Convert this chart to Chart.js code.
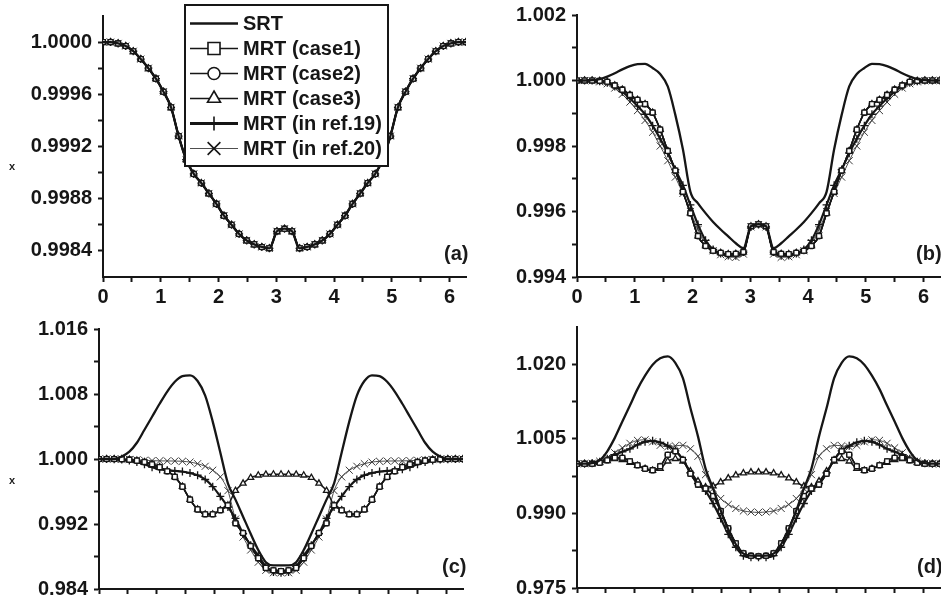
<!DOCTYPE html>
<html>
<head>
<meta charset="utf-8">
<script src="https://cdn.jsdelivr.net/npm/chart.js@4.4.1/dist/chart.umd.min.js"></script>
<style>
    html, body { margin: 0; padding: 0; background: #fff; overflow: hidden; }
    #page { position: relative; width: 941px; height: 600px; overflow: hidden; background: #fff; }
    canvas { position: absolute; }
    .tag { position: absolute; font: bold 20px "Liberation Sans", Arial, sans-serif; color: #1a1a1a; line-height: 20px; white-space: nowrap; }
    .ytitle { position: absolute; font: bold 11px "Liberation Sans", Arial, sans-serif; color: #222; line-height: 11px; }
</style>
</head>
<body>
<div id="page">
    <canvas id="chartA" width="472" height="330" style="left:0;top:-10px"></canvas>
    <canvas id="chartB" width="475" height="330" style="left:471px;top:-10px"></canvas>
    <canvas id="chartC" width="469" height="340" style="left:0;top:290px"></canvas>
    <canvas id="chartD" width="475" height="340" style="left:471px;top:290px"></canvas>
    <div class="ytitle" style="left:9px;top:161px">x</div>
    <div class="ytitle" style="left:9px;top:475px">x</div>
    <div class="tag" style="left:444px;top:243px">(a)</div>
    <div class="tag" style="left:916px;top:243px">(b)</div>
    <div class="tag" style="left:442px;top:556px">(c)</div>
    <div class="tag" style="left:917px;top:556px">(d)</div>
</div>
<script>
// x positions of the sampled points (0 .. 2*pi)
const xValues = [0, 0.131, 0.262, 0.393, 0.524, 0.654, 0.785, 0.916, 1.047, 1.178, 1.309, 1.440, 1.571,
    1.702, 1.833, 1.963, 2.094, 2.225, 2.356, 2.487, 2.618, 2.749, 2.880, 3.011, 3.142, 3.272, 3.403,
    3.534, 3.665, 3.796, 3.927, 4.058, 4.189, 4.320, 4.451, 4.581, 4.712, 4.843, 4.974, 5.105, 5.236,
    5.367, 5.498, 5.629, 5.760, 5.890, 6.021, 6.152, 6.283];

const seriesNames = ['SRT', 'MRT (case1)', 'MRT (case2)', 'MRT (case3)', 'MRT (in ref.19)', 'MRT (in ref.20)'];

// panel (a): all six schemes lie on the same curve
const curveA = [1.00000, 1.00000, 0.99999, 0.99997, 0.99993, 0.99987, 0.99980, 0.99972, 0.99962, 0.99950,
    0.99928, 0.99910, 0.99899, 0.99892, 0.99884, 0.99876, 0.99867, 0.99860, 0.99853, 0.99848, 0.99845,
    0.99843, 0.99842, 0.99855, 0.99857, 0.99855, 0.99842, 0.99843, 0.99845, 0.99848, 0.99853, 0.99860,
    0.99867, 0.99876, 0.99884, 0.99892, 0.99899, 0.99910, 0.99928, 0.99950, 0.99962, 0.99972, 0.99980,
    0.99987, 0.99993, 0.99997, 0.99999, 1.00000, 1.00000];

// panel (b)
const srtB = [1.00000, 1.00000, 1.00001, 1.00004, 1.00012, 1.00022, 1.00034, 1.00044, 1.00050, 1.00051,
    1.00038, 1.00020, 0.99982, 0.99895, 0.99790, 0.99660, 0.99625, 0.99595, 0.99568, 0.99545, 0.99524,
    0.99503, 0.99488, 0.99555, 0.99561, 0.99555, 0.99488, 0.99503, 0.99524, 0.99545, 0.99568, 0.99595,
    0.99625, 0.99660, 0.99790, 0.99895, 0.99982, 1.00020, 1.00038, 1.00051, 1.00050, 1.00044, 1.00034,
    1.00022, 1.00012, 1.00004, 1.00001, 1.00000, 1.00000];
const caseB = [1.00000, 1.00000, 1.00000, 0.99999, 0.99996, 0.99985, 0.99972, 0.99956, 0.99941, 0.99928,
    0.99902, 0.99850, 0.99785, 0.99725, 0.99660, 0.99595, 0.99525, 0.99495, 0.99480, 0.99474, 0.99470,
    0.99471, 0.99476, 0.99555, 0.99561, 0.99555, 0.99476, 0.99471, 0.99470, 0.99474, 0.99480, 0.99495,
    0.99525, 0.99595, 0.99660, 0.99725, 0.99785, 0.99850, 0.99902, 0.99928, 0.99941, 0.99956, 0.99972,
    0.99985, 0.99996, 0.99999, 1.00000, 1.00000, 1.00000];
const ref19B = [1.00000, 1.00000, 1.00000, 0.99998, 0.99993, 0.99982, 0.99966, 0.99945, 0.99922, 0.99897,
    0.99862, 0.99822, 0.99778, 0.99728, 0.99680, 0.99620, 0.99560, 0.99512, 0.99484, 0.99472, 0.99466,
    0.99465, 0.99476, 0.99553, 0.99560, 0.99553, 0.99476, 0.99465, 0.99466, 0.99472, 0.99484, 0.99512,
    0.99560, 0.99620, 0.99680, 0.99728, 0.99778, 0.99822, 0.99862, 0.99897, 0.99922, 0.99945, 0.99966,
    0.99982, 0.99993, 0.99998, 1.00000, 1.00000, 1.00000];
const ref20B = [1.00000, 1.00000, 0.99999, 0.99996, 0.99990, 0.99977, 0.99958, 0.99934, 0.99908, 0.99878,
    0.99842, 0.99800, 0.99755, 0.99705, 0.99655, 0.99600, 0.99545, 0.99505, 0.99480, 0.99468, 0.99462,
    0.99460, 0.99470, 0.99553, 0.99560, 0.99553, 0.99470, 0.99460, 0.99462, 0.99468, 0.99480, 0.99505,
    0.99545, 0.99600, 0.99655, 0.99705, 0.99755, 0.99800, 0.99842, 0.99878, 0.99908, 0.99934, 0.99958,
    0.99977, 0.99990, 0.99996, 0.99999, 1.00000, 1.00000];

// panel (c)
const srtC = [1.0000, 1.0000, 1.0000, 1.0003, 1.0009, 1.0020, 1.0036, 1.0052, 1.0068, 1.0083, 1.0095,
    1.0102, 1.0103, 1.0096, 1.0078, 1.0046, 1.0008, 0.9970, 0.9950, 0.9929, 0.9908, 0.9888, 0.9873,
    0.9869, 0.9869, 0.9869, 0.9873, 0.9888, 0.9908, 0.9929, 0.9950, 0.9970, 1.0008, 1.0046, 1.0078,
    1.0096, 1.0103, 1.0102, 1.0095, 1.0083, 1.0068, 1.0052, 1.0036, 1.0020, 1.0009, 1.0003, 1.0000,
    1.0000, 1.0000];
const case12C = [1.0000, 1.0000, 1.0000, 0.99998, 0.99992, 0.99980, 0.99962, 0.99935, 0.99900, 0.99850,
    0.99780, 0.99660, 0.99500, 0.99380, 0.99320, 0.99320, 0.99370, 0.99430, 0.99210, 0.99090, 0.98930,
    0.98780, 0.98660, 0.98630, 0.98620, 0.98630, 0.98660, 0.98780, 0.98930, 0.99090, 0.99210, 0.99430,
    0.99370, 0.99320, 0.99320, 0.99380, 0.99500, 0.99660, 0.99780, 0.99850, 0.99900, 0.99935, 0.99962,
    0.99980, 0.99992, 0.99998, 1.0000, 1.0000, 1.0000];
const case3C = [1.0000, 1.0000, 1.0000, 0.99998, 0.99992, 0.99980, 0.99962, 0.99935, 0.99900, 0.99850,
    0.99780, 0.99660, 0.99500, 0.99380, 0.99320, 0.99320, 0.99370, 0.99430, 0.99610, 0.99700, 0.99770,
    0.99800, 0.99810, 0.99812, 0.99812, 0.99812, 0.99810, 0.99800, 0.99770, 0.99700, 0.99610, 0.99430,
    0.99370, 0.99320, 0.99320, 0.99380, 0.99500, 0.99660, 0.99780, 0.99850, 0.99900, 0.99935, 0.99962,
    0.99980, 0.99992, 0.99998, 1.0000, 1.0000, 1.0000];
const ref19C = [1.0000, 1.0000, 0.99998, 0.99993, 0.99982, 0.99962, 0.99935, 0.99900, 0.99875, 0.99862,
    0.99853, 0.99845, 0.99828, 0.99800, 0.99748, 0.99660, 0.99540, 0.99410, 0.99270, 0.99080, 0.98940,
    0.98810, 0.98680, 0.98610, 0.98600, 0.98610, 0.98680, 0.98810, 0.98940, 0.99080, 0.99270, 0.99410,
    0.99540, 0.99660, 0.99748, 0.99800, 0.99828, 0.99845, 0.99853, 0.99862, 0.99875, 0.99900, 0.99935,
    0.99962, 0.99982, 0.99993, 0.99998, 1.0000, 1.0000];
const ref20C = [1.0000, 1.0000, 1.0000, 0.99998, 0.99995, 0.99990, 0.99985, 0.99980, 0.99977, 0.99976,
    0.99975, 0.99972, 0.99962, 0.99942, 0.99910, 0.99862, 0.99780, 0.99610, 0.99260, 0.99040, 0.98880,
    0.98730, 0.98630, 0.98600, 0.98600, 0.98600, 0.98630, 0.98730, 0.98880, 0.99040, 0.99260, 0.99610,
    0.99780, 0.99862, 0.99910, 0.99942, 0.99962, 0.99972, 0.99975, 0.99976, 0.99977, 0.99980, 0.99985,
    0.99990, 0.99995, 0.99998, 1.0000, 1.0000, 1.0000];

// panel (d)
const srtD = [1.0000, 1.0000, 1.0001, 1.0007, 1.0025, 1.0052, 1.0085, 1.0117, 1.0150, 1.0177, 1.0199,
    1.0212, 1.0216, 1.0203, 1.0172, 1.0112, 1.0055, 0.9990, 0.9950, 0.9906, 0.9868, 0.9838, 0.9819,
    0.9815, 0.9815, 0.9815, 0.9819, 0.9838, 0.9868, 0.9906, 0.9950, 0.9990, 1.0055, 1.0112, 1.0172,
    1.0203, 1.0216, 1.0212, 1.0199, 1.0177, 1.0150, 1.0117, 1.0085, 1.0052, 1.0025, 1.0007, 1.0001,
    1.0000, 1.0000];
const case12D = [1.0000, 1.0000, 1.0000, 1.0002, 1.0007, 1.0012, 1.0012, 1.0005, 0.9997, 0.9990, 0.9987,
    0.9995, 1.0018, 1.0025, 1.0008, 0.9980, 0.9958, 0.9950, 0.9935, 0.9905, 0.9870, 0.9840, 0.9820,
    0.9815, 0.9814, 0.9815, 0.9820, 0.9840, 0.9870, 0.9905, 0.9935, 0.9950, 0.9958, 0.9980, 1.0008,
    1.0025, 1.0018, 0.9995, 0.9987, 0.9990, 0.9997, 1.0005, 1.0012, 1.0012, 1.0007, 1.0002, 1.0000,
    1.0000, 1.0000];
const case3D = [1.0000, 1.0000, 1.0000, 1.0002, 1.0006, 1.0010, 1.0008, 1.0002, 0.9996, 0.9990, 0.9986,
    0.9990, 1.0005, 1.0010, 1.0005, 0.9985, 0.9965, 0.9953, 0.9955, 0.9963, 0.9971, 0.9977, 0.9981,
    0.9983, 0.9983, 0.9983, 0.9981, 0.9977, 0.9971, 0.9963, 0.9955, 0.9953, 0.9965, 0.9985, 1.0005,
    1.0010, 1.0005, 0.9990, 0.9986, 0.9990, 0.9996, 1.0002, 1.0008, 1.0010, 1.0006, 1.0002, 1.0000,
    1.0000, 1.0000];
const ref19D = [1.0000, 1.0000, 1.0001, 1.0004, 1.0010, 1.0018, 1.0024, 1.0030, 1.0038, 1.0044, 1.0046,
    1.0043, 1.0036, 1.0026, 1.0008, 0.9982, 0.9960, 0.9945, 0.9920, 0.9890, 0.9858, 0.9832, 0.9815,
    0.9812, 0.9812, 0.9812, 0.9815, 0.9832, 0.9858, 0.9890, 0.9920, 0.9945, 0.9960, 0.9982, 1.0008,
    1.0026, 1.0036, 1.0043, 1.0046, 1.0044, 1.0038, 1.0030, 1.0024, 1.0018, 1.0010, 1.0004, 1.0001,
    1.0000, 1.0000];
const ref20D = [1.0000, 1.0000, 1.0001, 1.0005, 1.0012, 1.0022, 1.0032, 1.0041, 1.0047, 1.0048, 1.0044,
    1.0037, 1.0034, 1.0036, 1.0037, 1.0030, 1.0015, 0.9978, 0.9950, 0.9930, 0.9918, 0.9910, 0.9905,
    0.9903, 0.9902, 0.9903, 0.9905, 0.9910, 0.9918, 0.9930, 0.9950, 0.9978, 1.0015, 1.0030, 1.0037,
    1.0036, 1.0034, 1.0037, 1.0044, 1.0048, 1.0047, 1.0041, 1.0032, 1.0022, 1.0012, 1.0005, 1.0001,
    1.0000, 1.0000];

// axis ticks
const xTickLabels = ['0', '1', '2', '3', '4', '5', '6'];
const xMinorTicks = [0.5, 1.5, 2.5, 3.5, 4.5, 5.5];
const yLabelsA = ['0.9984', '0.9988', '0.9992', '0.9996', '1.0000'];
const yMinorA = [0.9986, 0.9990, 0.9994, 0.9998];
const yLabelsB = ['0.994', '0.996', '0.998', '1.000', '1.002'];
const yMinorB = [0.995, 0.997, 0.999, 1.001];
const yLabelsC = ['0.984', '0.992', '1.000', '1.008', '1.016'];
const yMinorC = [0.988, 0.996, 1.004, 1.012];
const yLabelsD = ['0.975', '0.990', '1.005', '1.020'];
const yMinorD = [0.9825, 0.9975, 1.0125];

const ink = '#161616';

// line / marker look of each scheme (same order as seriesNames)
const seriesStyles = [
    {borderWidth: 2.3, borderColor: ink, pointRadius: 0, pointStyle: 'circle', legendRadius: 0},
    {borderWidth: 1.5, borderColor: ink, pointRadius: 3.4, pointStyle: 'rect', legendRadius: 8.5},
    {borderWidth: 1.5, borderColor: ink, pointRadius: 2.7, pointStyle: 'circle', legendRadius: 6},
    {borderWidth: 1.5, borderColor: ink, pointRadius: 3.5, pointStyle: 'triangle', legendRadius: 7.5},
    {borderWidth: 2.2, borderColor: ink, pointRadius: 4, pointStyle: 'cross', legendRadius: 7},
    {borderWidth: 0.9, borderColor: '#3a3a3a', pointRadius: 5, pointStyle: 'crossRot', legendRadius: 9}
];

Chart.defaults.font.family = '"Liberation Sans", Arial, Helvetica, sans-serif';
Chart.defaults.font.size = 20;
Chart.defaults.font.weight = 'bold';
Chart.defaults.color = ink;

function labelFor(value, values, labels) {
    const i = values.findIndex(v => Math.abs(v - value) < 1e-9);
    return i >= 0 ? labels[i] : '';
}

function drawMarker(ctx, style, r, x, y) {
    ctx.beginPath();
    if (style === 'rect') {
        const h = r * Math.SQRT1_2;
        ctx.rect(x - h, y - h, 2 * h, 2 * h);
    } else if (style === 'circle') {
        ctx.arc(x, y, r, 0, Math.PI * 2);
    } else if (style === 'triangle') {
        ctx.moveTo(x, y - r);
        ctx.lineTo(x + r * 0.866, y + r * 0.5);
        ctx.lineTo(x - r * 0.866, y + r * 0.5);
        ctx.closePath();
    } else if (style === 'cross') {
        ctx.moveTo(x, y - r); ctx.lineTo(x, y + r);
        ctx.moveTo(x - r, y); ctx.lineTo(x + r, y);
        ctx.stroke();
        return;
    } else if (style === 'crossRot') {
        const d = r * Math.SQRT1_2;
        ctx.moveTo(x - d, y - d); ctx.lineTo(x + d, y + d);
        ctx.moveTo(x - d, y + d); ctx.lineTo(x + d, y - d);
        ctx.stroke();
        return;
    }
    ctx.fillStyle = '#fff';
    ctx.fill();
    ctx.stroke();
}

// boxed legend drawn inside panel (a), over the curves
const legendBox = {
    id: 'legendBox',
    afterDatasetsDraw(chart, args, opts) {
        if (!opts.show) return;
        const ctx = chart.ctx;
        ctx.save();
        ctx.fillStyle = '#fff';
        ctx.fillRect(opts.x, opts.y, opts.w, opts.h);
        ctx.lineWidth = 2;
        ctx.strokeStyle = ink;
        ctx.strokeRect(opts.x, opts.y, opts.w, opts.h);
        chart.data.datasets.forEach((ds, i) => {
            const st = seriesStyles[i];
            const y = opts.y + opts.firstRow + i * opts.rowStep;
            ctx.beginPath();
            ctx.moveTo(opts.lineStart, y);
            ctx.lineTo(opts.lineEnd, y);
            ctx.lineWidth = i === 4 ? 3 : st.borderWidth;
            ctx.strokeStyle = st.borderColor;
            ctx.stroke();
            if (st.legendRadius > 0) {
                ctx.lineWidth = 1.6;
                ctx.strokeStyle = ink;
                drawMarker(ctx, st.pointStyle, st.legendRadius, (opts.lineStart + opts.lineEnd) / 2, y);
            }
            ctx.fillStyle = ink;
            ctx.font = 'bold 20px "Liberation Sans", Arial, sans-serif';
            ctx.textBaseline = 'middle';
            ctx.textAlign = 'left';
            ctx.fillText(ds.label, opts.textX, y + 1);
        });
        ctx.restore();
    }
};

function makePanel(canvasId, series, yMin, yMax, yLabels, yMinor, box, legend) {
    const yMajor = yLabels.map(Number);
    const xMajor = xTickLabels.map(Number);
    const datasets = series.map((values, i) => {
        const st = seriesStyles[i];
        return {
            label: seriesNames[i],
            data: xValues.map((x, k) => ({x: x, y: values[k]})),
            showLine: true,
            borderColor: st.borderColor,
            borderWidth: st.borderWidth,
            pointStyle: st.pointStyle,
            pointRadius: st.pointRadius,
            pointBorderColor: st.borderColor,
            pointBorderWidth: i === 5 ? 1 : 1.3,
            pointBackgroundColor: '#fff',
            cubicInterpolationMode: 'monotone',
            fill: false
        };
    });
    const axisStyle = {
        grid: {drawOnChartArea: false, drawTicks: true, tickLength: 5, tickWidth: 2, tickColor: ink},
        border: {display: true, width: 2, color: ink}
    };
    return new Chart(document.getElementById(canvasId), {
        type: 'scatter',
        data: {datasets: datasets},
        options: {
            responsive: false,
            animation: false,
            events: [],
            layout: {padding: {top: box.top, left: 0, right: 0, bottom: 0}},
            scales: {
                x: {
                    type: 'linear',
                    min: 0,
                    max: 6.2832,
                    ...axisStyle,
                    afterFit: scale => { scale.height = box.xHeight; },
                    afterBuildTicks: axis => axis.ticks = xMajor.concat(xMinorTicks).sort((a, b) => a - b).map(v => ({value: v})),
                    ticks: {
                        autoSkip: false,
                        maxRotation: 0,
                        padding: 3,
                        callback: value => labelFor(value, xMajor, xTickLabels)
                    }
                },
                y: {
                    type: 'linear',
                    min: yMin,
                    max: yMax,
                    ...axisStyle,
                    afterFit: scale => { scale.width = box.yWidth; },
                    afterBuildTicks: axis => axis.ticks = yMajor.concat(yMinor).sort((a, b) => a - b).map(v => ({value: v})),
                    ticks: {
                        autoSkip: false,
                        padding: 6,
                        callback: value => labelFor(value, yMajor, yLabels)
                    }
                }
            },
            plugins: {
                legend: {display: false},
                tooltip: {enabled: false},
                legendBox: legend
            }
        },
        plugins: [legendBox]
    });
}

makePanel('chartA', [curveA, curveA, curveA, curveA, curveA, curveA], 0.9982, 1.0002, yLabelsA, yMinorA,
    {top: 26, yWidth: 103, xHeight: 43},
    {show: true, x: 185, y: 15, w: 203, h: 161, firstRow: 18.5, rowStep: 25,
        lineStart: 190, lineEnd: 238, textX: 243});
makePanel('chartB', [srtB, caseB, caseB, caseB, ref19B, ref20B], 0.994, 1.002, yLabelsB, yMinorB,
    {top: 25, yWidth: 106, xHeight: 43}, {show: false});
makePanel('chartC', [srtC, case12C, case12C, case3C, ref19C, ref20C], 0.984, 1.016, yLabelsC, yMinorC,
    {top: 39, yWidth: 99, xHeight: 41}, {show: false});
makePanel('chartD', [srtD, case12D, case12D, case3D, ref19D, ref20D], 0.975, 1.0275, yLabelsD, yMinorD,
    {top: 37, yWidth: 106, xHeight: 42}, {show: false});
</script>
</body>
</html>
